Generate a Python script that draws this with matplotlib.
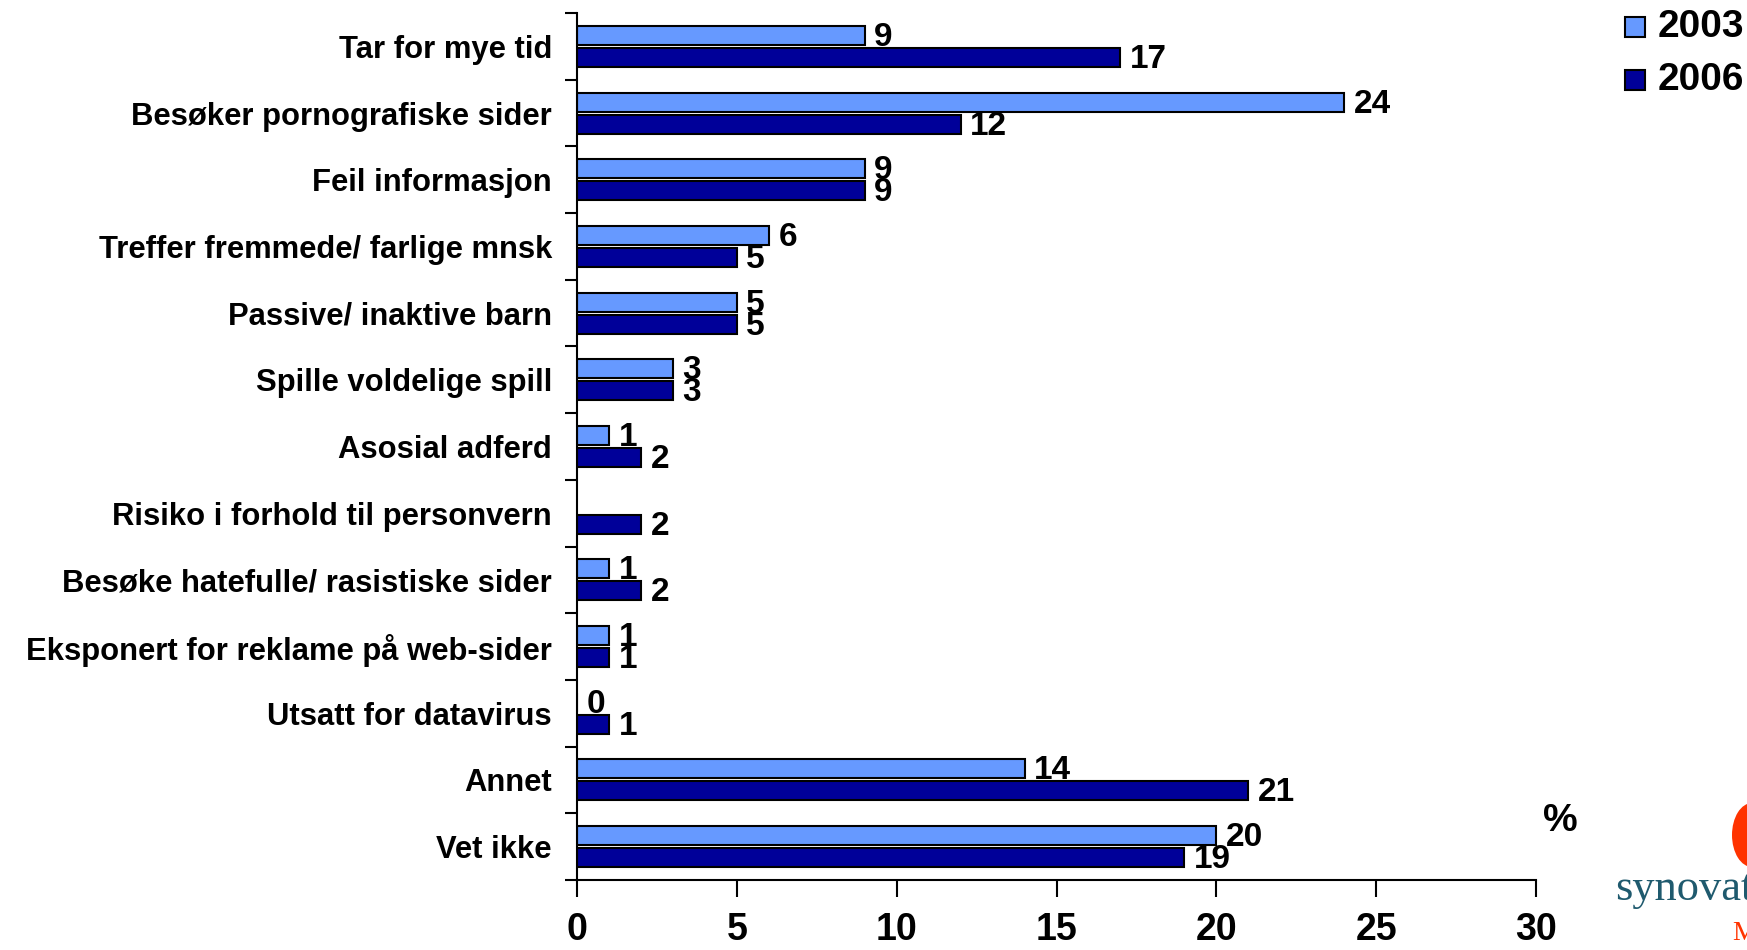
import matplotlib
matplotlib.use("Agg")
import matplotlib.pyplot as plt
import numpy as np
from matplotlib.patches import Rectangle, Ellipse

plt.rcParams['font.family'] = ['Liberation Sans', 'DejaVu Sans']
plt.rcParams['font.weight'] = 'bold'

categories = [
    "Tar for mye tid",
    "Besøker pornografiske sider",
    "Feil informasjon",
    "Treffer fremmede/ farlige mnsk",
    "Passive/ inaktive barn",
    "Spille voldelige spill",
    "Asosial adferd",
    "Risiko i forhold til personvern",
    "Besøke hatefulle/ rasistiske sider",
    "Eksponert for reklame på web-sider",
    "Utsatt for datavirus",
    "Annet",
    "Vet ikke",
]
series_names = ["2003", "2006"]
values_2003 = [9, 24, 9, 6, 5, 3, 1, None, 1, 1, 0, 14, 20]
values_2006 = [17, 12, 9, 5, 5, 3, 2, 2, 2, 1, 1, 21, 19]
xticks = [0, 5, 10, 15, 20, 25, 30]

c2003 = "#6699FF"
c2006 = "#000099"

fig = plt.figure(figsize=(17.47, 9.5), dpi=100)
ax = fig.add_axes([577/1747, 1-880/950, (1536-577)/1747, (880-13)/950])

n = len(categories)
ypos = np.arange(n)
h = 0.285
off = 0.165

for i, (a, b) in enumerate(zip(values_2003, values_2006)):
    if a is not None:
        ax.barh(i - off, a, height=h, color=c2003, edgecolor="black", linewidth=1.5)
        ax.text(a + 0.3, i - off + 0.03, str(a), va="center", ha="left",
                fontsize=24, fontweight="bold")
    if b is not None:
        ax.barh(i + off, b, height=h, color=c2006, edgecolor="black", linewidth=1.5)
        ax.text(b + 0.3, i + off + 0.03, str(b), va="center", ha="left",
                fontsize=24, fontweight="bold")

ax.set_ylim(n - 0.5, -0.5)
ax.set_xlim(0, 30)
ax.set_yticks(ypos)
ax.set_yticklabels(categories, fontsize=22.3, fontweight="bold")
ax.tick_params(axis="y", length=0, pad=18)
ax.set_yticks(np.arange(-0.5, n, 1.0), minor=True)
ax.tick_params(axis="y", which="minor", length=9, width=1.5, direction="out")

ax.set_xticks(xticks)
ax.set_xticklabels([str(t) for t in xticks], fontsize=27, fontweight="bold")
ax.tick_params(axis="x", length=12, width=1.5, direction="out", pad=11)

for s in ["top", "right"]:
    ax.spines[s].set_visible(False)
for s in ["left", "bottom"]:
    ax.spines[s].set_linewidth(1.5)

# legend
fig.patches.append(Rectangle((1625/1747, 1-37/950), 20/1747, 20/950,
                             transform=fig.transFigure, facecolor=c2003,
                             edgecolor="black", linewidth=1.5))
fig.patches.append(Rectangle((1625/1747, 1-90/950), 20/1747, 20/950,
                             transform=fig.transFigure, facecolor=c2006,
                             edgecolor="black", linewidth=1.5))
fig.text(1658/1747, 1-27/950, series_names[0], fontsize=28, fontweight="bold",
         va="center", ha="left")
fig.text(1658/1747, 1-80/950, series_names[1], fontsize=28, fontweight="bold",
         va="center", ha="left")

fig.text(1560/1747, 1-821/950, "%", fontsize=28, fontweight="bold",
         va="center", ha="center")

# partial logo
fig.patches.append(Ellipse((1752/1747, 1-835/950), 40/1747, 64/950,
                           transform=fig.transFigure, facecolor="#FF3300",
                           edgecolor="none"))
fig.text(1615/1747, 1-889/950, "synovate", fontsize=32, family="Liberation Serif",
         fontweight="normal", color="#1F5A6E", va="center", ha="left")
fig.text(1732/1747, 1-934/950, "MMI", fontsize=20, family="Liberation Serif",
         fontweight="normal", color="#FF3300", va="center", ha="left")

fig.savefig("out.png", dpi=100)
